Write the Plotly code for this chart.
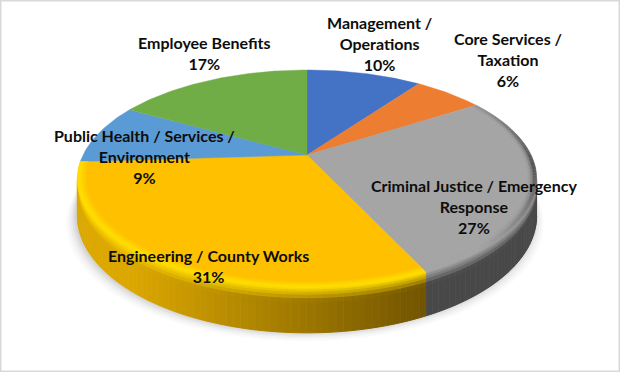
import numpy as np
import plotly.graph_objects as go

categories = ["Management /<br>Operations", "Core Services /<br>Taxation",
              "Criminal Justice / Emergency<br>Response", "Engineering / County Works",
              "Public Health / Services /<br>Environment", "Employee Benefits"]
values = [10, 6, 27, 31, 9, 17]
colors = ["#4472C4", "#ED7D31", "#A5A5A5", "#FFC000", "#5B9BD5", "#70AD47"]
label_x = [379, 508, 474, 208, 144, 204]
label_y = [43, 59, 206, 266, 156, 53]

CX, CY, A, B, K, D = 307, 155, 103.7, 224, 0.22, 35
STEP = 1.5


def proj(theta, r=1.0):
    t = np.radians(theta)
    x, u = r * np.sin(t), r * np.cos(t)
    den = 1 + K * u
    return CX + B * x / den, CY - A * u / den


def depth(theta):
    return D / (1 + K * np.cos(np.radians(theta)))


def mix(c1, c2, f):
    f = float(np.clip(f, 0, 1))
    return tuple(c1[i] + (c2[i] - c1[i]) * f for i in range(3))


def css(c):
    return "rgb(%d,%d,%d)" % tuple(int(round(v)) for v in c)


def hexrgb(h):
    return tuple(int(h[i:i + 2], 16) for i in (1, 3, 5))


fig = go.Figure()


def poly(xs, ys, color, lw=1.0):
    fig.add_trace(go.Scatter(x=list(xs), y=list(ys), mode="lines", fill="toself", fillcolor=color,
                             line=dict(color=color, width=lw), hoverinfo="skip", showlegend=False))


# soft shadow below the body
for grow, alpha in [(9, 0.03), (7, 0.04), (5, 0.05), (3, 0.07), (1, 0.09)]:
    th = np.linspace(0, 360, 181)
    xs, ys = proj(th)
    ys = ys + D / (1 + K * np.cos(np.radians(th)))
    cx0 = xs.mean()
    poly(cx0 + (xs - cx0) * (1 + grow / 229) - 2, ys + grow * 0.9, "rgba(90,90,90,%.2f)" % alpha, 0)

edges = np.concatenate([[0], np.cumsum(values)]) * 3.6
grid = np.linspace(0, 360, 3601)
gx, _ = proj(grid)
th_right, th_left = grid[np.argmax(gx)], grid[np.argmin(gx)]

LAYERS = [0, 0.05, 0.10, 0.16, 0.24, 0.34, 1.0]
YEL_L, YEL_R = hexrgb("#DCA800"), hexrgb("#6F5300")
HI = hexrgb("#FFDC00")
WALL = hexrgb("#484848")

# side wall
for i, col in enumerate(colors):
    a0, a1 = max(edges[i], th_right), min(edges[i + 1], th_left)
    if a1 <= a0:
        continue
    n = max(1, int(np.ceil((a1 - a0) / STEP)))
    ts = np.linspace(a0, a1, n + 1)
    for t0, t1 in zip(ts[:-1], ts[1:]):
        xa, ya = proj(t0)
        xb, yb = proj(t1)
        da, db = depth(t0), depth(t1)
        xm = (xa + xb) / 2
        if col == "#FFC000":
            base = mix(YEL_R, YEL_L, (430 - xm) / 300)
            top = HI
        else:
            base = WALL
            top = hexrgb(col)
        for l0, l1 in zip(LAYERS[:-1], LAYERS[1:]):
            c = mix(top, base, ((l0 + l1) / 2) / 0.3)
            poly([xa, xb, xb, xa], [ya + da * l0, yb + db * l0, yb + db * l1, ya + da * l1], css(c))

# top face
for i, col in enumerate(colors):
    ts = np.arange(edges[i], edges[i + 1], 1.0).tolist() + [edges[i + 1]]
    xs, ys = proj(np.array(ts))
    poly([CX] + list(xs) + [CX], [CY] + list(ys) + [CY], col, 0.4)

# bevel on the front rim
RINGS = [0.965, 0.975, 0.985, 1.0]
for i, col in enumerate(colors):
    if col not in ("#FFC000", "#A5A5A5"):
        continue
    a0, a1 = edges[i], edges[i + 1]
    n = int(np.ceil((a1 - a0) / STEP))
    ts = np.linspace(a0, a1, n + 1)
    for t0, t1 in zip(ts[:-1], ts[1:]):
        for j, (r0, r1) in enumerate(zip(RINGS[:-1], RINGS[1:])):
            f = (j + 1) / 3
            if col == "#FFC000":
                c = mix(hexrgb(col), HI, f)
            else:
                tm = (t0 + t1) / 2
                strength = np.clip(1 - abs(tm - 95) / 45, 0, 1)
                c = mix(hexrgb(col), hexrgb("#555555"), f * f * strength)
            x0, y0 = proj(t0, r0)
            x1, y1 = proj(t1, r0)
            x2, y2 = proj(t1, r1)
            x3, y3 = proj(t0, r1)
            poly([x0, x1, x2, x3], [y0, y1, y2, y3], css(c), 0.5)

for name, v, x, y in zip(categories, values, label_x, label_y):
    fig.add_annotation(x=x, y=y, text="%s<br>%d%%" % (name, v), showarrow=False, align="center",
                       font=dict(family="Lato", size=16, color="#0d0d0d", weight="bold"))

fig.update_layout(
    width=620, height=372, margin=dict(l=0, r=0, t=0, b=0),
    paper_bgcolor="white", plot_bgcolor="white", showlegend=False,
    xaxis=dict(range=[0, 620], visible=False, fixedrange=True),
    yaxis=dict(range=[372, 0], visible=False, fixedrange=True),
    shapes=[dict(type="rect", xref="paper", yref="paper", x0=0, y0=0, x1=1, y1=1,
                 line=dict(color="#D9D9D9", width=3), fillcolor="rgba(0,0,0,0)")],
)
fig.write_html("out.html", config=dict(displayModeBar=False),
               post_script="document.body.style.margin='0';document.body.style.overflow='hidden';")
